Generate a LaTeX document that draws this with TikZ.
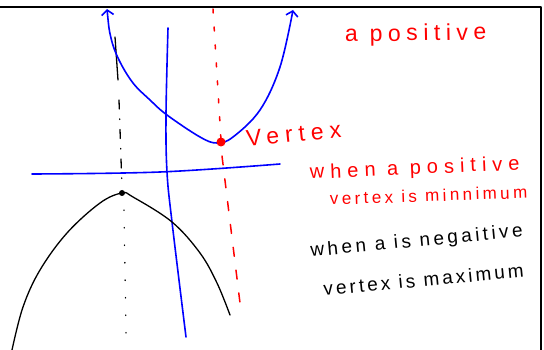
\documentclass[tikz,border=0pt]{standalone}
\usepackage{fontspec}
\setmainfont{Liberation Sans}
\usetikzlibrary{arrows.meta}
\newcommand{\hsz}[2]{\fontsize{#1}{#1}\selectfont\addfontfeatures{LetterSpace=#2}}
\begin{document}
\begin{tikzpicture}[x=1pt,y=-1pt, line cap=round, line join=round,
  bl/.style={draw=blue, line width=1.6pt},
  bk/.style={draw=black, line width=1.3pt},
  rd/.style={draw=red, line width=1.5pt},
  barb/.style={arrows={Straight Barb[length=5pt,width=12pt]-Straight Barb[length=5pt,width=12pt]}},
  redtxt/.style={text=red, inner sep=0pt, anchor=base west},
  blktxt/.style={text=black, inner sep=0pt, anchor=base west}]
\useasboundingbox (0,0) rectangle (544,350);
\fill[white] (0,0) rectangle (544,350);

% red axis of symmetry
\draw[rd, dash pattern=on 4pt off 14pt] (213,9) -- (221,140);
\draw[rd, dash pattern=on 9pt off 14pt] (222,156) -- (240,303);

% black axis of symmetry
\draw[bk] (115,37) -- (118,80);
\draw[bk, dash pattern=on 9pt off 10pt on 0.5pt off 10pt] (119,100) -- (122,188);
\draw[bk, dash pattern=on 0.5pt off 17pt] (124,210) -- (126,333);

% blue axes
\draw[bl] plot[smooth, tension=0.6] coordinates {(168,28) (166,115) (167,172) (172,222) (186,337)};
\draw[bl] plot[smooth, tension=0.6] coordinates {(32,174) (160,172) (280,164)};

% blue parabola (a positive)
\draw[bl, barb] plot[smooth, tension=0.6] coordinates {(107,9) (111,38) (119,60) (133,83) (150,100) (167,115) (200,137) (217,143) (233,137) (260,110) (280,67) (293,10)};

% black parabola (a negative)
\draw[bk] plot[smooth, tension=0.6] coordinates {(12,350) (23,307) (40,270) (67,233) (100,203) (122,193) (133,197) (172,222) (200,253) (217,283) (230,315)};

% vertices
\fill[red] (221,142) circle (4.5pt);
\fill[black] (122,193) circle (3pt);

\node[redtxt, rotate=1, font=\hsz{23}{24}] (apos) at (345,42) {a positive};
\node[redtxt, rotate=6, font=\hsz{23}{26}] (vtx) at (247,147) {Vertex};
\node[redtxt, rotate=2.5, font=\hsz{20}{30}] (wpos) at (310,179) {when a positive};
\node[redtxt, rotate=2, font=\hsz{17}{20}] (vmin) at (330,205) {vertex is minnimum};
\node[blktxt, rotate=5.5, font=\hsz{19}{18}] (wneg) at (311,257) {when a is negaitive};
\node[blktxt, rotate=5.5, font=\hsz{19}{16}] (vmax) at (324,296) {vertex is maximum};

% frame
\draw[black, line width=2pt] (0,7) -- (541,7) -- (541,351);
\end{tikzpicture}
\end{document}
